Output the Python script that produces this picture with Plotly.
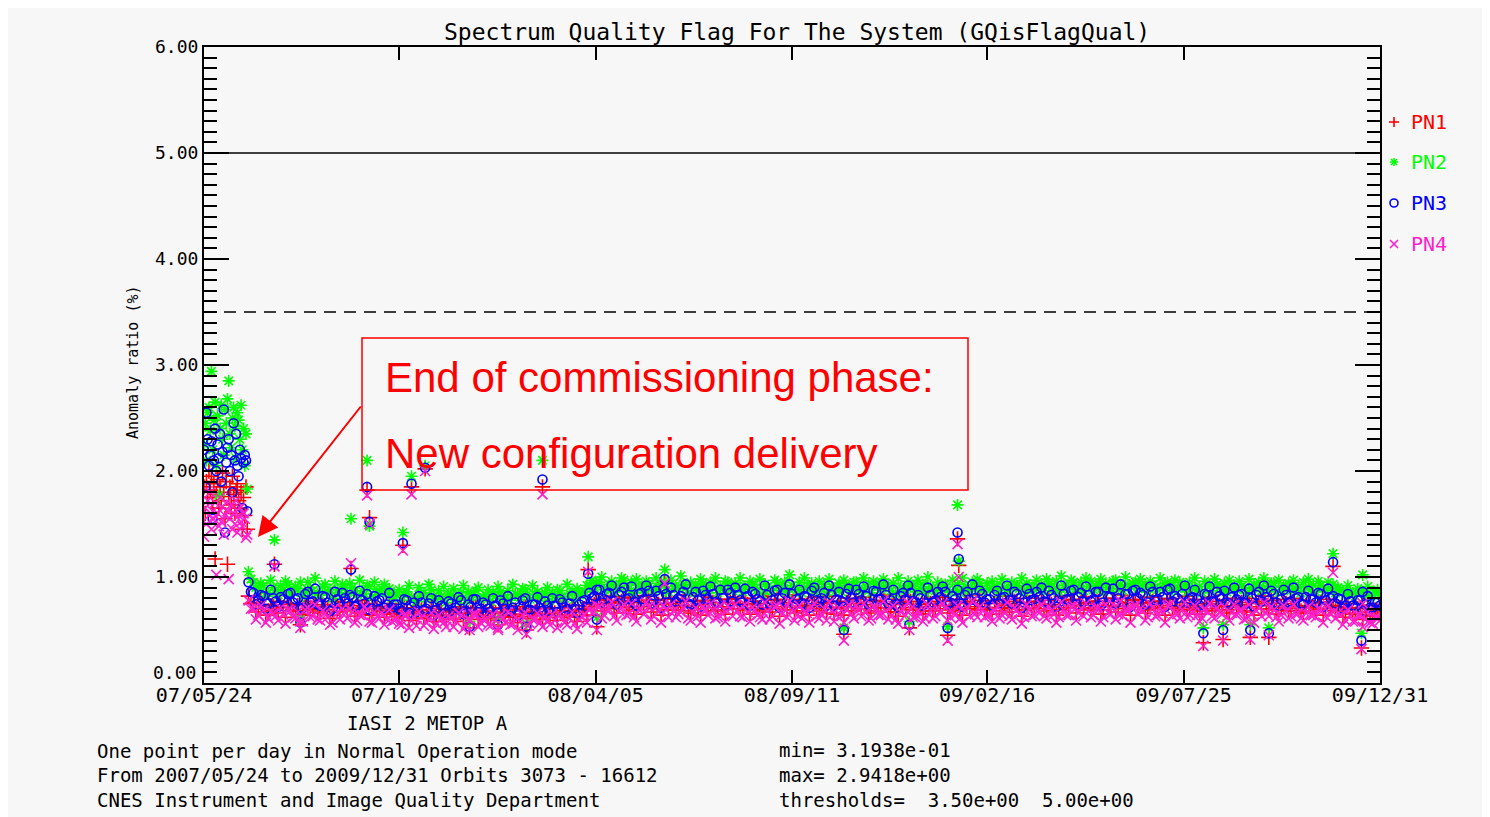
import pandas as pd
import plotly.graph_objects as go

# ---------------- data ----------------
early_start = "2007-05-24"      # commissioning phase, one point per day
band_a_start = "2007-06-29"     # normal operation, sampled every 4 days
band_b_start = "2007-07-01"     # intermediate days, also every 4 days
band_step_days = 4

pn1_early = [1.85, 1.60, 1.90, 1.75, 2.00, 1.82, 1.95, 1.70, 1.88, 1.17, 1.78, 1.92, 1.65, 1.85, 1.72, 1.98, 1.80, 1.55,
             1.90, 1.12, 1.76, 1.85, 1.68, 1.95, 1.78, 1.60, 1.82, 1.88, 1.72, 1.65, 1.80, 1.45, 1.75, 1.58, 1.85, 1.45]
pn2_early = [2.25, 2.45, 2.10, 2.55, 2.60, 2.38, 2.94, 2.20, 2.48, 2.65, 2.05, 2.52, 1.77, 2.40, 2.62, 2.30, 2.15, 2.58,
             2.45, 2.68, 2.85, 2.35, 2.22, 2.50, 2.60, 2.42, 2.12, 2.55, 2.48, 2.30, 2.62, 2.20, 2.40, 2.05, 2.35, 1.83]
pn3_early = [2.20, 1.85, 2.55, 2.30, 2.05, 2.15, 2.28, 1.55, 2.10, 2.40, 2.00, 2.25, 2.12, 2.35, 1.90, 2.18, 2.58, 1.42,
             2.08, 2.22, 2.30, 2.00, 2.15, 1.80, 2.45, 2.10, 2.35, 2.05, 1.95, 2.20, 2.12, 1.65, 2.08, 2.15, 2.10, 1.62]
pn4_early = [1.38, 1.65, 1.50, 1.72, 1.58, 1.80, 1.45, 1.62, 1.55, 1.70, 1.02, 1.60, 1.48, 1.75, 1.52, 1.66, 1.40, 1.58,
             1.70, 1.62, 0.98, 1.55, 1.68, 1.45, 1.60, 1.50, 1.72, 1.42, 1.58, 1.65, 1.52, 1.48, 1.60, 1.55, 1.37, 1.40]

pn1_band_a = [
    0.82, 0.76, 0.70, 0.74, 0.68, 0.72, 0.66, 0.71, 0.75, 0.69, 0.73, 0.65, 0.77, 0.70, 0.67, 0.74, 0.69, 0.64, 0.72, 0.76,
    0.68, 0.73, 0.66, 0.71, 0.75, 0.64, 0.70, 0.72, 0.67, 0.65, 0.68, 0.62, 0.71, 0.66, 0.61, 0.69, 0.64, 0.72, 0.63, 0.67,
    0.60, 0.68, 0.65, 0.70, 0.62, 0.66, 0.71, 0.64, 0.67, 0.61, 0.66, 0.70, 0.64, 0.62, 0.69, 0.65, 0.72, 0.63, 0.67, 0.64,
    0.70, 0.62, 0.66, 0.71, 0.64, 0.68, 0.63, 0.67, 0.70, 0.76, 0.74, 0.78, 0.71, 0.76, 0.70, 0.75, 0.80, 0.72, 0.69, 0.76,
    0.72, 0.78, 0.70, 0.74, 0.79, 0.69, 0.75, 0.72, 0.77, 0.68, 0.73, 0.70, 0.78, 0.71, 0.76, 0.69, 0.72, 0.79, 0.70, 0.75,
    0.69, 0.74, 0.77, 0.71, 0.67, 0.75, 0.70, 0.79, 0.72, 0.69, 0.76, 0.71, 0.68, 0.73, 0.78, 0.70, 0.72, 0.66, 0.75, 0.71,
    0.70, 0.76, 0.72, 0.79, 0.70, 0.74, 0.68, 0.77, 0.71, 0.75, 0.70, 0.67, 0.74, 0.71, 0.77, 0.69, 0.72, 0.68, 0.75, 0.70,
    0.73, 0.77, 0.69, 0.71, 0.68, 0.75, 0.70, 0.72, 0.78, 0.69, 0.71, 0.75, 0.68, 0.73, 0.70, 0.77, 0.72, 0.69, 0.76, 0.71,
    0.73, 0.70, 0.78, 0.72, 0.69, 0.76, 0.71, 0.79, 0.73, 0.70, 0.75, 0.71, 0.77, 0.69, 0.73, 0.80, 0.72, 0.70, 0.76, 0.78,
    0.72, 0.75, 0.69, 0.77, 0.71, 0.73, 0.79, 0.70, 0.72, 0.76, 0.69, 0.73, 0.71, 0.68, 0.75, 0.70, 0.77, 0.72, 0.69, 0.73,
    0.71, 0.76, 0.68, 0.72, 0.75, 0.70, 0.73, 0.78, 0.69, 0.71, 0.75, 0.70, 0.72, 0.68, 0.73, 0.71, 0.69, 0.76, 0.70, 0.72,
    0.68, 0.71, 0.66, 0.70, 0.65, 0.71, 0.67, 0.64, 0.69, 0.66,
]
pn2_band_a = [
    1.05, 0.95, 0.88, 0.92, 0.85, 0.90, 0.83, 0.87, 0.93, 0.86, 0.89, 0.82, 0.95, 0.87, 0.84, 0.91, 0.86, 0.80, 0.88, 0.93,
    0.85, 0.90, 0.83, 0.87, 0.92, 0.81, 0.86, 0.89, 0.84, 0.80, 0.83, 0.78, 0.86, 0.81, 0.77, 0.84, 0.80, 0.88, 0.79, 0.82,
    0.76, 0.83, 0.80, 0.85, 0.78, 0.81, 0.87, 0.79, 0.83, 0.77, 0.82, 0.86, 0.80, 0.78, 0.84, 0.81, 0.88, 0.79, 0.83, 0.80,
    0.85, 0.78, 0.82, 0.87, 0.80, 0.84, 0.79, 0.83, 0.86, 0.92, 0.90, 0.95, 0.88, 0.93, 0.86, 0.91, 0.97, 0.89, 0.85, 0.92,
    0.88, 0.94, 0.87, 0.90, 0.96, 0.86, 0.91, 0.89, 0.93, 0.85, 0.90, 0.87, 0.94, 0.88, 0.92, 0.85, 0.89, 0.95, 0.87, 0.91,
    0.86, 0.90, 0.93, 0.88, 0.84, 0.91, 0.87, 0.95, 0.89, 0.86, 0.92, 0.88, 0.85, 0.90, 0.94, 0.87, 0.89, 0.83, 0.91, 0.88,
    0.86, 0.92, 0.89, 0.95, 0.87, 0.90, 0.85, 0.93, 0.88, 0.91, 0.87, 0.84, 0.90, 0.88, 0.92, 0.86, 0.89, 0.85, 0.91, 0.87,
    0.90, 0.93, 0.86, 0.88, 0.85, 0.91, 0.87, 0.89, 0.94, 0.86, 0.88, 0.91, 0.85, 0.90, 0.87, 0.93, 0.89, 0.86, 0.92, 0.88,
    0.90, 0.87, 0.94, 0.89, 0.86, 0.92, 0.88, 0.95, 0.90, 0.87, 0.91, 0.88, 0.93, 0.86, 0.90, 0.96, 0.89, 0.87, 0.92, 0.94,
    0.89, 0.91, 0.86, 0.93, 0.88, 0.90, 0.95, 0.87, 0.89, 0.92, 0.86, 0.90, 0.88, 0.85, 0.91, 0.87, 0.93, 0.89, 0.86, 0.90,
    0.88, 0.92, 0.85, 0.89, 0.91, 0.87, 0.90, 0.94, 0.86, 0.88, 0.91, 0.87, 0.89, 0.85, 0.90, 0.88, 0.86, 0.92, 0.87, 0.89,
    0.85, 0.88, 0.83, 0.86, 0.82, 0.87, 0.84, 0.81, 0.85, 0.83,
]
pn3_band_a = [
    0.95, 0.85, 0.78, 0.82, 0.75, 0.80, 0.72, 0.79, 0.84, 0.76, 0.80, 0.71, 0.86, 0.77, 0.74, 0.82, 0.76, 0.70, 0.79, 0.85,
    0.75, 0.81, 0.73, 0.78, 0.84, 0.70, 0.77, 0.80, 0.74, 0.71, 0.74, 0.68, 0.78, 0.72, 0.67, 0.76, 0.70, 0.80, 0.69, 0.73,
    0.66, 0.75, 0.71, 0.78, 0.68, 0.72, 0.79, 0.70, 0.74, 0.67, 0.73, 0.78, 0.70, 0.68, 0.76, 0.72, 0.80, 0.69, 0.74, 0.71,
    0.77, 0.68, 0.73, 0.79, 0.71, 0.75, 0.70, 0.74, 0.78, 0.85, 0.82, 0.88, 0.79, 0.85, 0.77, 0.83, 0.90, 0.80, 0.76, 0.84,
    0.79, 0.87, 0.78, 0.82, 0.89, 0.76, 0.83, 0.80, 0.86, 0.75, 0.81, 0.78, 0.87, 0.79, 0.84, 0.76, 0.80, 0.88, 0.77, 0.83,
    0.76, 0.82, 0.86, 0.79, 0.74, 0.83, 0.78, 0.88, 0.80, 0.77, 0.84, 0.79, 0.75, 0.81, 0.87, 0.78, 0.80, 0.73, 0.83, 0.79,
    0.77, 0.84, 0.80, 0.88, 0.78, 0.82, 0.75, 0.86, 0.79, 0.83, 0.78, 0.74, 0.82, 0.79, 0.85, 0.76, 0.80, 0.75, 0.83, 0.78,
    0.81, 0.86, 0.76, 0.79, 0.75, 0.83, 0.78, 0.80, 0.87, 0.76, 0.79, 0.83, 0.75, 0.81, 0.78, 0.86, 0.80, 0.76, 0.84, 0.79,
    0.81, 0.77, 0.87, 0.80, 0.76, 0.84, 0.79, 0.88, 0.81, 0.77, 0.83, 0.79, 0.86, 0.76, 0.81, 0.89, 0.80, 0.77, 0.84, 0.87,
    0.80, 0.83, 0.76, 0.86, 0.79, 0.81, 0.88, 0.77, 0.80, 0.84, 0.76, 0.81, 0.79, 0.75, 0.83, 0.77, 0.86, 0.80, 0.76, 0.81,
    0.79, 0.84, 0.75, 0.80, 0.83, 0.77, 0.81, 0.87, 0.76, 0.79, 0.83, 0.77, 0.80, 0.75, 0.81, 0.79, 0.76, 0.84, 0.78, 0.80,
    0.75, 0.79, 0.73, 0.77, 0.72, 0.78, 0.74, 0.71, 0.76, 0.73,
]
pn4_band_a = [
    0.78, 0.70, 0.64, 0.68, 0.61, 0.66, 0.59, 0.65, 0.69, 0.62, 0.67, 0.58, 0.71, 0.63, 0.60, 0.68, 0.62, 0.57, 0.66, 0.70,
    0.61, 0.67, 0.59, 0.64, 0.69, 0.57, 0.63, 0.66, 0.60, 0.58, 0.61, 0.55, 0.64, 0.59, 0.54, 0.62, 0.57, 0.66, 0.56, 0.60,
    0.53, 0.61, 0.58, 0.64, 0.55, 0.59, 0.65, 0.57, 0.60, 0.54, 0.59, 0.64, 0.57, 0.55, 0.62, 0.58, 0.66, 0.56, 0.60, 0.57,
    0.63, 0.55, 0.59, 0.65, 0.57, 0.61, 0.56, 0.60, 0.64, 0.70, 0.67, 0.72, 0.64, 0.70, 0.63, 0.68, 0.74, 0.65, 0.62, 0.69,
    0.65, 0.72, 0.63, 0.67, 0.73, 0.62, 0.68, 0.65, 0.71, 0.61, 0.66, 0.63, 0.72, 0.64, 0.69, 0.62, 0.65, 0.73, 0.63, 0.68,
    0.62, 0.67, 0.71, 0.64, 0.60, 0.68, 0.63, 0.73, 0.65, 0.62, 0.69, 0.64, 0.61, 0.66, 0.72, 0.63, 0.65, 0.59, 0.68, 0.64,
    0.63, 0.69, 0.65, 0.73, 0.63, 0.67, 0.61, 0.71, 0.64, 0.68, 0.63, 0.60, 0.67, 0.64, 0.70, 0.62, 0.65, 0.61, 0.68, 0.63,
    0.66, 0.71, 0.62, 0.64, 0.61, 0.68, 0.63, 0.65, 0.72, 0.62, 0.64, 0.68, 0.61, 0.66, 0.63, 0.71, 0.65, 0.62, 0.69, 0.64,
    0.66, 0.63, 0.72, 0.65, 0.62, 0.69, 0.64, 0.73, 0.66, 0.63, 0.68, 0.64, 0.71, 0.62, 0.66, 0.74, 0.65, 0.63, 0.69, 0.72,
    0.65, 0.68, 0.62, 0.71, 0.64, 0.66, 0.73, 0.63, 0.65, 0.69, 0.62, 0.66, 0.64, 0.61, 0.68, 0.63, 0.71, 0.65, 0.62, 0.66,
    0.64, 0.69, 0.61, 0.65, 0.68, 0.63, 0.66, 0.72, 0.62, 0.64, 0.68, 0.63, 0.65, 0.61, 0.66, 0.64, 0.62, 0.69, 0.63, 0.65,
    0.61, 0.64, 0.59, 0.63, 0.58, 0.64, 0.60, 0.57, 0.62, 0.59,
]

pn1_band_b = [
    0.75, 0.67, 0.79, 0.64, 0.73, 0.70, 0.77, 0.62, 0.74, 0.68, 0.64, 0.75, 0.69, 0.80, 0.66, 0.72, 0.61, 0.77, 0.67, 0.73,
    0.76, 0.63, 0.70, 0.78, 0.65, 0.73, 0.68, 0.62, 0.75, 0.66, 0.63, 0.70, 0.59, 0.68, 0.73, 0.61, 0.66, 0.58, 0.70, 0.64,
    0.69, 0.60, 0.72, 0.58, 0.66, 0.71, 0.60, 0.68, 0.62, 0.71, 0.59, 0.67, 0.73, 0.63, 0.57, 0.70, 0.61, 0.66, 0.72, 0.60,
    0.65, 0.71, 0.59, 0.68, 0.62, 0.73, 0.58, 0.69, 0.64, 0.72, 0.79, 0.68, 0.75, 0.82, 0.66, 0.77, 0.71, 0.81, 0.65, 0.76,
    0.82, 0.67, 0.78, 0.64, 0.75, 0.80, 0.69, 0.73, 0.83, 0.66, 0.77, 0.64, 0.74, 0.81, 0.68, 0.79, 0.65, 0.76, 0.80, 0.70,
    0.80, 0.65, 0.75, 0.69, 0.82, 0.67, 0.78, 0.63, 0.76, 0.83, 0.66, 0.79, 0.73, 0.64, 0.81, 0.68, 0.76, 0.82, 0.65, 0.77,
    0.64, 0.80, 0.68, 0.75, 0.81, 0.66, 0.78, 0.71, 0.83, 0.67, 0.79, 0.63, 0.76, 0.82, 0.69, 0.74, 0.65, 0.80, 0.68, 0.77,
    0.81, 0.66, 0.73, 0.79, 0.64, 0.77, 0.83, 0.69, 0.75, 0.71, 0.65, 0.78, 0.71, 0.82, 0.67, 0.75, 0.63, 0.80, 0.70, 0.77,
    0.80, 0.68, 0.74, 0.64, 0.82, 0.71, 0.78, 0.66, 0.76, 0.81, 0.69, 0.77, 0.65, 0.80, 0.72, 0.67, 0.83, 0.75, 0.64, 0.79,
    0.76, 0.66, 0.81, 0.70, 0.77, 0.64, 0.80, 0.73, 0.68, 0.82, 0.71, 0.79, 0.65, 0.75, 0.81, 0.68, 0.73, 0.78, 0.66, 0.80,
    0.74, 0.67, 0.80, 0.64, 0.77, 0.82, 0.70, 0.75, 0.65, 0.79, 0.68, 0.80, 0.72, 0.66, 0.78, 0.71, 0.76, 0.64, 0.79, 0.73,
    0.72, 0.62, 0.75, 0.65, 0.70, 0.60, 0.73, 0.63, 0.68,
]
pn2_band_b = [
    0.98, 0.90, 0.94, 0.82, 0.97, 0.88, 0.92, 0.96, 0.84, 0.91, 0.95, 0.86, 0.90, 0.99, 0.83, 0.93, 0.88, 0.96, 0.85, 0.90,
    0.94, 0.87, 0.97, 0.84, 0.91, 0.95, 0.86, 0.93, 0.89, 0.85, 0.88, 0.84, 0.92, 0.79, 0.90, 0.85, 0.93, 0.82, 0.87, 0.91,
    0.84, 0.89, 0.78, 0.92, 0.86, 0.83, 0.90, 0.81, 0.88, 0.85, 0.91, 0.80, 0.87, 0.93, 0.83, 0.89, 0.84, 0.92, 0.86, 0.82,
    0.90, 0.84, 0.88, 0.81, 0.93, 0.86, 0.89, 0.85, 0.92, 0.97, 0.94, 1.00, 0.89, 0.96, 0.92, 0.99, 0.88, 0.95, 0.98, 0.90,
    0.96, 0.89, 0.99, 0.93, 0.87, 0.97, 0.92, 1.01, 0.90, 0.95, 0.93, 0.98, 0.88, 0.95, 0.99, 0.91, 0.96, 0.89, 0.94, 0.99,
    0.91, 0.96, 0.89, 0.98, 0.93, 0.88, 0.97, 0.92, 0.95, 1.02, 0.90, 0.95, 0.99, 0.91, 0.87, 0.96, 0.93, 0.98, 0.89, 0.94,
    0.97, 0.90, 0.95, 0.88, 0.99, 0.93, 0.96, 0.91, 0.98, 0.92, 0.94, 0.99, 0.89, 0.96, 0.91, 0.97, 0.93, 1.00, 0.90, 0.95,
    0.92, 0.88, 0.97, 0.93, 0.99, 0.90, 0.95, 0.98, 0.89, 0.94, 0.96, 0.91, 0.98, 0.88, 0.95, 0.92, 0.99, 0.94, 0.90, 0.97,
    0.93, 0.98, 0.90, 0.96, 1.01, 0.92, 0.97, 0.89, 0.95, 0.99, 0.96, 0.92, 0.98, 0.94, 0.89, 0.97, 0.93, 1.00, 0.91, 0.95,
    0.98, 0.93, 0.96, 0.90, 0.99, 0.94, 0.91, 0.97, 0.95, 0.92, 0.95, 0.99, 0.91, 0.96, 0.93, 0.98, 0.90, 0.94, 0.97, 0.92,
    0.96, 0.90, 0.98, 0.93, 0.95, 0.99, 0.91, 0.94, 0.97, 0.92, 0.94, 0.97, 0.91, 0.95, 0.98, 0.92, 0.96, 0.90, 0.95, 0.93,
    0.90, 0.87, 0.92, 0.85, 0.89, 0.86, 0.91, 0.84, 0.88,
]
pn3_band_b = [
    0.86, 0.74, 0.83, 0.70, 0.88, 0.77, 0.81, 0.72, 0.85, 0.79, 0.70, 0.84, 0.76, 0.89, 0.73, 0.81, 0.68, 0.86, 0.75, 0.80,
    0.83, 0.72, 0.87, 0.75, 0.69, 0.82, 0.78, 0.71, 0.85, 0.74, 0.70, 0.79, 0.66, 0.76, 0.82, 0.69, 0.75, 0.64, 0.78, 0.72,
    0.77, 0.68, 0.81, 0.65, 0.74, 0.79, 0.67, 0.76, 0.70, 0.80, 0.66, 0.75, 0.82, 0.71, 0.64, 0.78, 0.69, 0.74, 0.81, 0.68,
    0.73, 0.80, 0.67, 0.76, 0.70, 0.82, 0.66, 0.77, 0.72, 0.80, 0.88, 0.76, 0.84, 0.92, 0.74, 0.86, 0.79, 0.91, 0.73, 0.85,
    0.92, 0.75, 0.87, 0.71, 0.84, 0.90, 0.77, 0.82, 0.93, 0.74, 0.86, 0.72, 0.83, 0.91, 0.76, 0.88, 0.73, 0.85, 0.90, 0.78,
    0.89, 0.73, 0.84, 0.77, 0.92, 0.75, 0.87, 0.71, 0.85, 0.93, 0.74, 0.88, 0.82, 0.71, 0.90, 0.76, 0.85, 0.92, 0.73, 0.86,
    0.72, 0.89, 0.76, 0.84, 0.91, 0.74, 0.87, 0.79, 0.93, 0.75, 0.88, 0.71, 0.85, 0.92, 0.77, 0.83, 0.73, 0.90, 0.76, 0.86,
    0.91, 0.74, 0.82, 0.88, 0.72, 0.86, 0.93, 0.77, 0.84, 0.79, 0.73, 0.87, 0.80, 0.92, 0.75, 0.84, 0.71, 0.89, 0.78, 0.86,
    0.90, 0.76, 0.83, 0.72, 0.92, 0.79, 0.87, 0.74, 0.85, 0.91, 0.77, 0.86, 0.73, 0.90, 0.81, 0.75, 0.93, 0.84, 0.72, 0.88,
    0.85, 0.74, 0.91, 0.78, 0.86, 0.72, 0.89, 0.82, 0.76, 0.92, 0.79, 0.88, 0.73, 0.84, 0.91, 0.76, 0.82, 0.87, 0.74, 0.90,
    0.83, 0.75, 0.89, 0.72, 0.86, 0.92, 0.78, 0.84, 0.73, 0.88, 0.76, 0.90, 0.81, 0.74, 0.87, 0.79, 0.85, 0.72, 0.89, 0.82,
    0.80, 0.70, 0.84, 0.73, 0.78, 0.68, 0.82, 0.71, 0.76,
]
pn4_band_b = [
    0.70, 0.60, 0.73, 0.57, 0.67, 0.63, 0.71, 0.56, 0.68, 0.61, 0.58, 0.69, 0.62, 0.74, 0.59, 0.66, 0.55, 0.71, 0.60, 0.67,
    0.70, 0.57, 0.64, 0.72, 0.58, 0.67, 0.61, 0.55, 0.69, 0.59, 0.56, 0.64, 0.52, 0.62, 0.67, 0.54, 0.60, 0.51, 0.64, 0.57,
    0.63, 0.53, 0.66, 0.51, 0.60, 0.65, 0.53, 0.62, 0.55, 0.65, 0.52, 0.61, 0.67, 0.56, 0.50, 0.64, 0.54, 0.60, 0.66, 0.53,
    0.59, 0.65, 0.52, 0.62, 0.55, 0.67, 0.51, 0.63, 0.57, 0.66, 0.73, 0.61, 0.69, 0.76, 0.59, 0.71, 0.64, 0.75, 0.58, 0.70,
    0.76, 0.60, 0.72, 0.57, 0.69, 0.74, 0.62, 0.67, 0.77, 0.59, 0.71, 0.57, 0.68, 0.75, 0.61, 0.73, 0.58, 0.70, 0.74, 0.63,
    0.74, 0.58, 0.69, 0.62, 0.76, 0.60, 0.72, 0.56, 0.70, 0.77, 0.59, 0.73, 0.67, 0.57, 0.75, 0.61, 0.70, 0.76, 0.58, 0.71,
    0.57, 0.74, 0.61, 0.69, 0.75, 0.59, 0.72, 0.64, 0.77, 0.60, 0.73, 0.56, 0.70, 0.76, 0.62, 0.68, 0.58, 0.74, 0.61, 0.71,
    0.75, 0.59, 0.67, 0.73, 0.57, 0.71, 0.77, 0.62, 0.69, 0.64, 0.58, 0.72, 0.64, 0.76, 0.60, 0.69, 0.56, 0.74, 0.63, 0.71,
    0.74, 0.61, 0.68, 0.57, 0.76, 0.64, 0.72, 0.59, 0.70, 0.75, 0.62, 0.71, 0.58, 0.74, 0.65, 0.60, 0.77, 0.69, 0.57, 0.73,
    0.70, 0.59, 0.75, 0.63, 0.71, 0.57, 0.74, 0.66, 0.61, 0.76, 0.64, 0.73, 0.58, 0.69, 0.75, 0.61, 0.67, 0.72, 0.59, 0.74,
    0.68, 0.60, 0.74, 0.57, 0.71, 0.76, 0.63, 0.69, 0.58, 0.73, 0.61, 0.74, 0.66, 0.59, 0.72, 0.64, 0.70, 0.57, 0.73, 0.67,
    0.66, 0.55, 0.69, 0.58, 0.64, 0.53, 0.67, 0.56, 0.62,
]

# isolated days standing out of the band
outlier_dates = ["2007-07-20", "2007-08-10", "2007-09-20", "2007-10-03", "2007-10-05", "2007-11-01", "2007-11-08",
                 "2007-11-19", "2007-12-25", "2008-01-17", "2008-02-09", "2008-02-22", "2008-03-30", "2008-04-06",
                 "2008-05-31", "2008-10-23", "2008-12-15", "2009-01-15", "2009-01-23", "2009-01-24", "2009-08-10",
                 "2009-08-26", "2009-09-17", "2009-10-02", "2009-11-23", "2009-12-16", "2009-12-17"]
pn1_out = [1.12, 0.55, 1.08, 1.82, 1.56, 1.30, 1.85, 2.02, 0.52, 0.55, 0.50, 1.85, 1.07, 0.53,
           0.95, 0.46, 0.52, 0.45, 1.36, 1.11, 0.38, 0.41, 0.43, 0.43, 1.10, 0.33, 0.82]
pn2_out = [1.35, 0.60, 1.55, 2.10, 1.48, 1.42, 1.95, 2.05, 0.58, 0.60, 0.56, 2.10, 1.19, 0.62,
           1.07, 0.52, 0.58, 0.53, 1.68, 1.15, 0.52, 0.55, 0.55, 0.52, 1.22, 0.47, 1.02]
pn3_out = [1.12, 0.57, 1.07, 1.85, 1.52, 1.32, 1.88, 2.03, 0.53, 0.55, 0.53, 1.92, 1.03, 0.60,
           0.98, 0.50, 0.55, 0.52, 1.42, 1.17, 0.47, 0.50, 0.50, 0.47, 1.14, 0.40, 0.86]
pn4_out = [1.10, 0.52, 1.13, 1.77, 1.50, 1.25, 1.78, 2.00, 0.50, 0.50, 0.46, 1.78, 1.05, 0.50,
           0.94, 0.40, 0.50, 0.40, 1.31, 1.00, 0.35, 0.40, 0.41, 0.45, 1.04, 0.32, 0.75]

series_names = ["PN1", "PN2", "PN3", "PN4"]
thresholds = [3.5, 5.0]
x_range = ["2007-05-24", "2009-12-31"]
y_range = [0.0, 6.0]
y_ticks = [0, 1, 2, 3, 4, 5, 6]
tick_dates = ["2007-05-24", "2007-10-29", "2008-04-05", "2008-09-11", "2009-02-16", "2009-07-25", "2009-12-31"]
tick_labels = ["07/05/24", "07/10/29", "08/04/05", "08/09/11", "09/02/16", "09/07/25", "09/12/31"]

# ---------------- layout helpers ----------------
# positions below are measured in the reference picture; the page adds an 8px body margin
OFF = 8
W, H = 1490, 817
L, R, T, B = 204, 1380, 47, 683
MONO = "DejaVu Sans Mono"
BG = "#f7f7f7"
colors = ["#ff0000", "#00ff00", "#0000ff", "#ff1ecc"]
symbols = ["cross-thin-open", "asterisk-open", "circle-open", "x-thin-open"]
sizes = [11, 10, 9, 10]


def pxx(x):
    return (x - L) / (R - L)


def pxy(y):
    return (B - y) / (B - T)


early = [pn1_early, pn2_early, pn3_early, pn4_early]
band_a = [pn1_band_a, pn2_band_a, pn3_band_a, pn4_band_a]
band_b = [pn1_band_b, pn2_band_b, pn3_band_b, pn4_band_b]
outs = [pn1_out, pn2_out, pn3_out, pn4_out]

fig = go.Figure()
for k in range(4):
    ex = list(pd.date_range(early_start, periods=len(early[k]), freq="D"))
    ax_ = list(pd.date_range(band_a_start, periods=len(band_a[k]), freq=f"{band_step_days}D"))
    bx_ = list(pd.date_range(band_b_start, periods=len(band_b[k]), freq=f"{band_step_days}D"))
    ox = list(pd.to_datetime(outlier_dates))
    fig.add_trace(go.Scatter(
        x=ex + ax_ + bx_ + ox, y=early[k] + band_a[k] + band_b[k] + outs[k], mode="markers",
        name=series_names[k], showlegend=False,
        marker=dict(symbol=symbols[k], size=sizes[k], color=colors[k], line=dict(width=1.6, color=colors[k])),
    ))

shapes = []
for i, th in enumerate(thresholds):
    shapes.append(dict(type="line", xref="x domain", x0=0, x1=1, yref="y", y0=th, y1=th,
                       line=dict(color="black", width=1.5, dash="12px,8px" if i == 0 else "solid")))
# annotation box
shapes.append(dict(type="rect", xref="paper", yref="paper", x0=pxx(362), x1=pxx(968), y0=pxy(490), y1=pxy(338),
                   line=dict(color="#ff0000", width=1.5)))


def glyph(px, py, segs, color, circle=False):
    # small legend glyph, drawn in pixel offsets around an anchor point
    for (a, b, c, d) in segs:
        shapes.append(dict(type="circle" if circle else "line", xref="paper", yref="paper",
                           xsizemode="pixel", ysizemode="pixel", xanchor=pxx(px), yanchor=pxy(py),
                           x0=a, y0=b, x1=c, y1=d, line=dict(color=color, width=1.6)))


leg_x = 1394
leg_y = [122, 162, 203, 244]
glyph(leg_x, leg_y[0], [(-5, 0, 5, 0), (0, -5, 0, 5)], colors[0])
glyph(leg_x, leg_y[1], [(-4, 0, 4, 0), (0, -4, 0, 4), (-3, -3, 3, 3), (-3, 3, 3, -3)], colors[1])
glyph(leg_x, leg_y[2], [(-4, -4, 4, 4)], colors[2], circle=True)
glyph(leg_x, leg_y[3], [(-4, -4, 4, 4), (-4, 4, 4, -4)], colors[3])

ann = []


def text(px, py, s, size, color="black", xanchor="left", family=MONO, angle=0):
    ann.append(dict(x=pxx(px), y=pxy(py), xref="paper", yref="paper", text=s, showarrow=False,
                    xanchor=xanchor, yanchor="middle", textangle=angle,
                    font=dict(family=family, size=size, color=color)))


NB = "\u00a0"
text(797, 32, "Spectrum Quality Flag For The System (GQisFlagQual)", 23, xanchor="center")
text(133, 362, "Anomaly ratio (%)", 15, xanchor="center", angle=-90)
text(198, 672, "0.00", 18, xanchor="right")
for k in range(4):
    text(1409, leg_y[k], series_names[k], 20, color=colors[k])
text(345, 723, "IASI 2 METOP A", 19)
text(95, 751, "One point per day in Normal Operation mode", 19)
text(95, 775, "From 2007/05/24 to 2009/12/31 Orbits 3073 - 16612", 19)
text(95, 800, "CNES Instrument and Image Quality Department", 19)
text(777, 750, "min=" + NB + "3.1938e-01", 19)
text(777, 775, "max=" + NB + "2.9418e+00", 19)
text(777, 800, "thresholds=" + NB * 2 + "3.50e+00" + NB * 2 + "5.00e+00", 19)
text(383, 377, "End of commissioning phase:", 42, color="#ff0000", family="Liberation Sans")
text(383, 453, "New configuration delivery", 42, color="#ff0000", family="Liberation Sans")
ann.append(dict(x=pxx(258), y=pxy(537), xref="paper", yref="paper", text="", showarrow=True,
                ax=104, ay=-132, arrowcolor="#ff0000", arrowwidth=2, arrowhead=2, arrowsize=2, standoff=0))

axis_common = dict(showgrid=False, zeroline=False, showline=True, linecolor="black", linewidth=2,
                   mirror="ticks", ticks="inside", tickcolor="black", tickwidth=1.5)

fig.update_layout(
    width=W, height=H,
    margin=dict(l=L - OFF, r=W - (R - OFF), t=T - OFF, b=H - (B - OFF), autoexpand=False),
    paper_bgcolor=BG, plot_bgcolor=BG,
    xaxis=dict(type="date", range=x_range, tickvals=tick_dates, ticktext=tick_labels, ticklen=13,
               ticklabelstandoff=-7, tickfont=dict(family=MONO, size=20, color="black"), **axis_common),
    yaxis=dict(range=y_range, tickvals=y_ticks, ticktext=[""] + [f"{v:.2f}" for v in y_ticks[1:]],
               ticklen=25, tickfont=dict(family=MONO, size=18, color="black"),
               minor=dict(dtick=0.1, ticklen=13, ticks="inside", tickcolor="black", tickwidth=1.5),
               **axis_common),
    shapes=shapes, annotations=ann, showlegend=False,
)

fig.write_html("out.html")
